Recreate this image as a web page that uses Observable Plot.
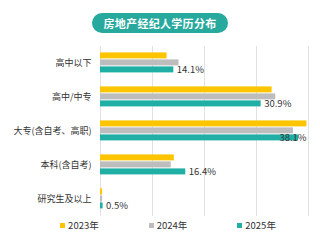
<!DOCTYPE html>
<html>
<head>
<meta charset="utf-8">
<script src="https://cdn.jsdelivr.net/npm/d3@7"></script>
<script src="https://cdn.jsdelivr.net/npm/@observablehq/plot@0.6"></script>
<style>
  html, body { margin: 0; padding: 0; background: #fff; }
  body { width: 320px; height: 240px; overflow: hidden; font-family: "Noto Sans CJK SC", "Noto Sans", sans-serif; }
  #title { height: 20px; margin: 13px 0 7px 0; display: flex; justify-content: center; }
  #title span { display: inline-block; width: 136px; height: 20px; line-height: 20px; border-radius: 10px;
    background: #27a99e; color: #fff; font-weight: bold; font-size: 11px; text-align: center; letter-spacing: 0.3px; }
  #chart svg { display: block; }
  #legend { display: flex; justify-content: center; gap: 50px; padding-left: 16px; font-size: 9.5px; color: #333; line-height: 12px; }
  #legend .item { display: flex; align-items: center; gap: 3px; }
  #legend .sw { width: 5px; height: 5px; display: inline-block; }
</style>
</head>
<body>
<div id="title"><span>房地产经纪人学历分布</span></div>
<div id="chart"></div>
<div id="legend"></div>
<script>
const categories = ["高中以下", "高中/中专", "大专(含自考、高职)", "本科(含自考)", "研究生及以上"];
const years = ["2023年", "2024年", "2025年"];
const v2023 = [12.8, 33.0, 39.7, 14.2, 0.4];
const v2024 = [15.1, 33.7, 37.1, 13.6, 0.4];
const v2025 = [14.1, 30.9, 38.1, 16.4, 0.5];
const colors = ["#fcc500", "#bdbdbd", "#1fafa5"];
const gridTicks = [0, 10, 20, 30, 40];

const series = [v2023, v2024, v2025];
const data = [];
categories.forEach((c, i) => {
  years.forEach((y, j) => data.push({cat: c, year: y, v: series[j][i]}));
});
const labels = data.filter(d => d.year === years[2]);

const chart = Plot.plot({
  width: 320,
  height: 179,
  marginLeft: 100,
  marginRight: 12,
  marginTop: 5.6,
  marginBottom: 2,
  style: {fontFamily: "Noto Sans CJK SC, sans-serif", fontSize: "9px", color: "#333", background: "transparent"},
  x: {domain: [0, 40], axis: null},
  y: {domain: years, axis: null, paddingInner: 0.08, paddingOuter: 0.92},
  fy: {domain: categories, padding: 0, axis: "left", label: null, tickSize: 0, tickPadding: 9},
  color: {domain: years, range: colors},
  marks: [
    Plot.ruleX(gridTicks, {stroke: "#e2e2e2", strokeWidth: 1}),
    Plot.barX(data, {x: "v", y: "year", fy: "cat", fill: "year"}),
    Plot.text(labels.filter(d => d.v < 35), {x: "v", y: "year", fy: "cat", text: d => d.v.toFixed(1) + "%", textAnchor: "start", dx: 3, fontSize: 9.5, fill: "#333"}),
    Plot.text(labels.filter(d => d.v >= 35), {x: "v", y: "year", fy: "cat", text: d => d.v.toFixed(1) + "%", textAnchor: "end", dx: 8, fontSize: 9.5, fill: "#333"})
  ]
});
document.getElementById("chart").appendChild(chart);

const legend = document.getElementById("legend");
years.forEach((y, j) => {
  const it = document.createElement("div");
  it.className = "item";
  const sw = document.createElement("span");
  sw.className = "sw";
  sw.style.background = colors[j];
  const t = document.createElement("span");
  t.textContent = y;
  it.appendChild(sw);
  it.appendChild(t);
  legend.appendChild(it);
});
</script>
</body>
</html>
